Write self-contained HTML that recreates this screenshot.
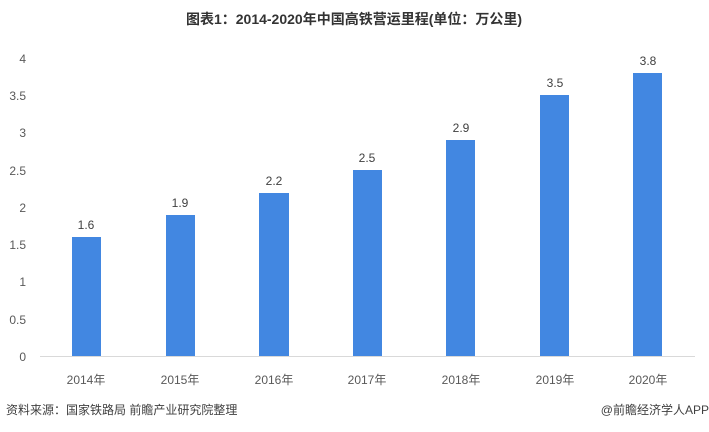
<!DOCTYPE html>
<html><head><meta charset="utf-8"><style>
body{margin:0;background:#fff;}
svg{display:block;font-family:"Liberation Sans","Noto Sans CJK SC",sans-serif;}
</style></head><body>
<svg width="709" height="432" viewBox="0 0 709 432">
<text x="354" y="24" text-anchor="middle" font-size="14" font-weight="bold" fill="#333">图表1：2014-2020年中国高铁营运里程(单位：万公里)</text>
<g font-size="12" fill="#595959" text-anchor="end">
<text x="26" y="361">0</text><text x="26" y="286">1</text><text x="26" y="212">2</text><text x="26" y="137">3</text><text x="26" y="63">4</text>
<text x="26" y="324">0.5</text><text x="26" y="249">1.5</text><text x="26" y="175">2.5</text><text x="26" y="100">3.5</text>
</g>
<line x1="40" y1="356.5" x2="695" y2="356.5" stroke="#d9d9d9" stroke-width="1"/>
<g fill="#4287e1">
<rect x="72" y="237" width="29" height="119"/>
<rect x="166" y="215" width="29" height="141"/>
<rect x="259" y="193" width="30" height="163"/>
<rect x="353" y="170" width="29" height="186"/>
<rect x="446" y="140" width="29" height="216"/>
<rect x="540" y="95" width="29" height="261"/>
<rect x="633" y="73" width="29" height="283"/>
</g>
<g font-size="12" fill="#404040" text-anchor="middle">
<text x="86" y="229">1.6</text><text x="180" y="207">1.9</text><text x="274" y="185">2.2</text><text x="367" y="162">2.5</text><text x="461" y="132">2.9</text><text x="555" y="87">3.5</text><text x="648" y="65">3.8</text>
</g>
<g font-size="12" fill="#595959" text-anchor="middle">
<text x="86" y="384">2014年</text><text x="180" y="384">2015年</text><text x="274" y="384">2016年</text><text x="367" y="384">2017年</text><text x="461" y="384">2018年</text><text x="555" y="384">2019年</text><text x="648" y="384">2020年</text>
</g>
<text x="6" y="414" font-size="12" fill="#404040">资料来源：国家铁路局 前瞻产业研究院整理</text>
<text x="709" y="414" font-size="12" fill="#404040" text-anchor="end">@前瞻经济学人APP</text>
</svg>
</body></html>
